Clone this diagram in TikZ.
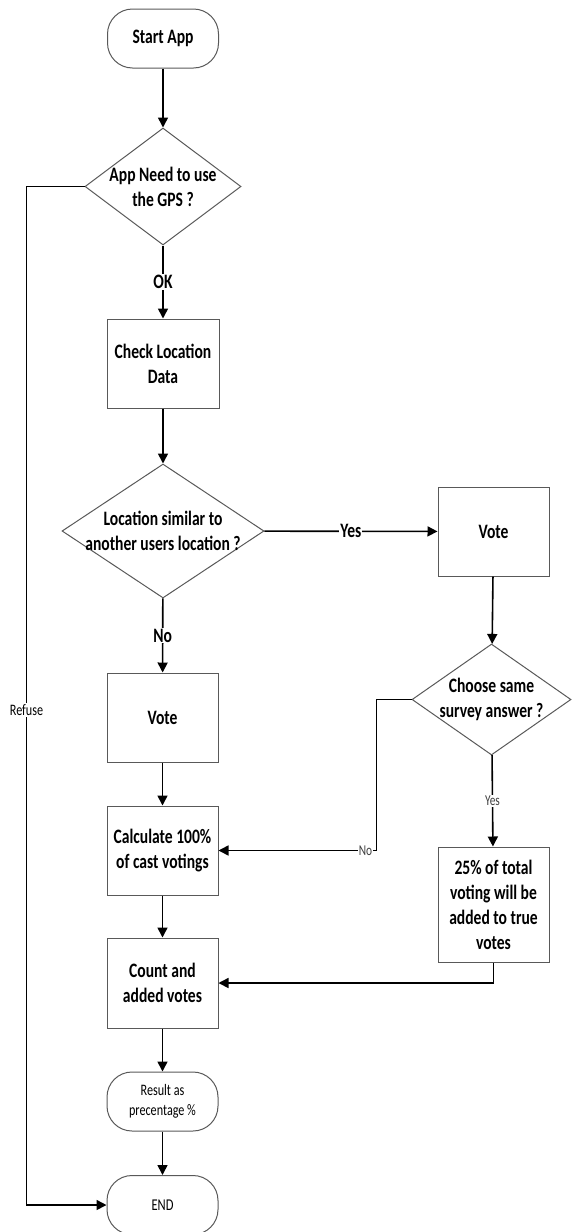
\documentclass[tikz,border=0pt]{standalone}
\usepackage{fontspec}
\setmainfont{Carlito}[FakeStretch=0.76]
\usetikzlibrary{shapes.geometric,arrows.meta}

\newcommand\bigtxt{\fontsize{20.5}{25}\selectfont\bfseries}
\newcommand\smalltxt{\fontsize{16}{20}\selectfont}

\tikzset{
  box/.style={draw=black!65, line width=1pt, minimum width=111pt, minimum height=89pt,
    inner sep=2pt, align=center, font=\bigtxt},
  term/.style={draw=black!65, line width=1pt, rounded corners=25pt, minimum width=111pt,
    minimum height=59pt, align=center},
  decision/.style={draw=black!65, line width=1pt, diamond, inner sep=0pt},
  flow/.style={line width=1.6pt, -{Triangle[length=10pt,width=10pt]}},
  tag/.style={fill=white, inner sep=1pt, font=\bigtxt},
  softtag/.style={fill=white, inner sep=1pt, font=\fontsize{15}{18}\selectfont, text=black!75},
}

\begin{document}
\begin{tikzpicture}[x=1pt,y=-1pt]

	\useasboundingbox (0,0) rectangle (571,1232);

	% Debut
	\node[term, font=\bigtxt] (start) at (163,38.5) {Start App};

	% Question GPS
	\node[decision, minimum width=156pt, minimum height=117pt,
	  label={[font=\bigtxt,align=center]center:App Need to use\\the GPS ?}] (gps) at (163,186.5) {};

	% Colonne de gauche
	\node[box, minimum width=112pt] (check) at (163,363.5) {Check Location\\Data};
	\node[decision, minimum width=202pt, minimum height=134pt,
	  label={[font=\bigtxt,align=center]center:Location similar to\\another users location ?}] (similar) at (163,531) {};
	\node[box] (voteL) at (162.5,717.5) {Vote};
	\node[box] (calc) at (162.5,850.5) {Calculate 100\%\\of cast votings};
	\node[box, minimum height=90pt] (count) at (162.5,983) {Count and\\added votes};
	\node[term, font=\smalltxt] (result) at (162.5,1101.5) {Result as\\precentage \%};
	\node[term, font=\fontsize{16.5}{20}\selectfont] (end) at (162.5,1205) {END};

	% Colonne de droite
	\node[box] (voteR) at (493.5,531.5) {Vote};
	\node[decision, minimum width=159pt, minimum height=111pt,
	  label={[font=\bigtxt,align=center]center:Choose same\\survey answer ?}] (same) at (491.5,699.5) {};
	\node[box, minimum height=115pt] (add) at (493.5,904.5) {25\% of total\\voting will be\\added to true\\votes};

	% Fleches
	\draw[flow] (start) -- (gps);
	\draw[flow] (gps) -- node[tag] {OK} (check);
	\draw[flow] (check) -- (similar);
	\draw[flow] (similar) -- node[tag] {Yes} (voteR);
	\draw[flow] (similar) -- node[tag] {No} (voteL);
	\draw[flow] (voteL) -- (calc);
	\draw[flow] (calc) -- (count);
	\draw[flow] (count) -- (result);
	\draw[flow] (result) -- (end);
	\draw[flow] (voteR) -- (same);
	\draw[flow] (same) -- node[softtag] {Yes} (add);
	\draw[flow] (same.west) -- ++(-35,0) |- node[softtag, pos=0.535] {No} (calc.east);
	\draw[flow] (add.south) |- (count.east);

	% Refus
	\draw[flow] (gps.west) -- ++(-58,0) |- node[tag, font=\smalltxt, pos=0.257] {Refuse} (end.west);

\end{tikzpicture}
\end{document}
